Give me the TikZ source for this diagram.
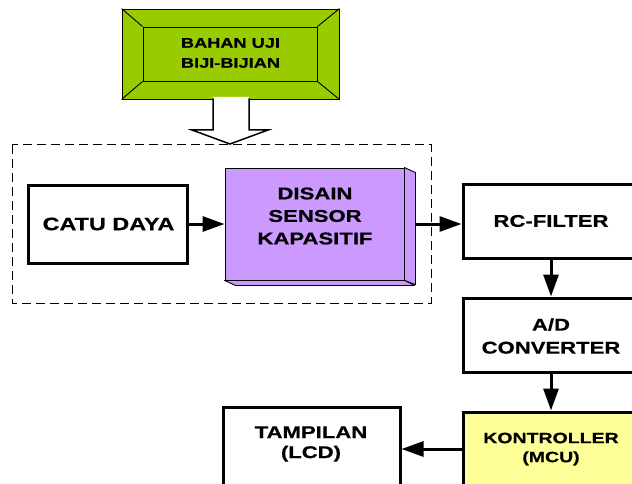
\documentclass[tikz,border=0pt]{standalone}
\usepackage{fontspec}
\newfontfamily\lbl[FakeStretch=1.3,FakeBold=0.6]{Liberation Sans}
\usetikzlibrary{arrows.meta}
\definecolor{grn}{HTML}{99CC00}
\definecolor{prp}{HTML}{CC99FF}
\definecolor{ylw}{HTML}{FFFF99}
\tikzset{
  blk/.style={draw=black, line width=3pt, fill=white, inner sep=0pt},
  lbltext/.style={align=center, inner sep=0pt, text=black},
  arr/.style={line width=3pt, -{Triangle[length=22pt,width=15pt]}},
  thin3d/.style={draw=black, line width=0.9pt, fill=prp, line join=round},
}
\begin{document}
\begin{tikzpicture}[x=1pt,y=-1pt]
\useasboundingbox (0,0) rectangle (632,484);
\clip (0,0) rectangle (632,484);

% green bevel box
\node[draw=black, line width=0.9pt, fill=grn, minimum width=217pt, minimum height=90pt, inner sep=0pt] (grn) at (230.5,54) {};
\node[draw=black, line width=0.9pt, fill=grn, minimum width=174pt, minimum height=54pt, inner sep=0pt] (grnin) at (230,54) {};
\draw[line width=0.9pt] (grn.north west) -- (grnin.north west)
  (grn.north east) -- (grnin.north east)
  (grn.south west) -- (grnin.south west)
  (grn.south east) -- (grnin.south east);
\node[lbltext, font=\lbl\bfseries\fontsize{14}{20}\selectfont] (bahan) at (230.5,53) {BAHAN UJI\\BIJI-BIJIAN};

% hollow arrow
\fill[white] (213,97) -- (213,130) -- (192,130) -- (230,144) -- (268,130) -- (249,130) -- (249,97) -- cycle;
\draw[line width=1.5pt, line join=miter] (213,98.5) -- (213,130) -- (192,130) -- (230,144) -- (268,130) -- (249,130) -- (249,98.5);

% dashed group
\draw[line width=1pt, dash pattern=on 9pt off 5pt] (12,145) rectangle (431,303);

% catu daya
\node[blk, minimum width=159pt, minimum height=78pt] (catu) at (107.5,224) {};
\node[lbltext, font=\lbl\bfseries\fontsize{18}{22}\selectfont] (catut) at (108.5,224) {CATU DAYA};

% purple 3d box
\node[thin3d, minimum width=179pt, minimum height=112pt, inner sep=0pt] (prp) at (314.5,224) {};
\draw[thin3d] (prp.north east) -- ++(11,5) -- ++(0,112) -- (prp.south east) -- cycle;
\draw[thin3d] (prp.south west) -- ++(11,5) -- ++(179,0) -- (prp.south east) -- cycle;
\coordinate (prpout) at ([xshift=11pt]prp.east);
\node[lbltext, font=\lbl\bfseries\fontsize{17}{22.5}\selectfont] (prpt) at (315,216) {DISAIN\\SENSOR\\KAPASITIF};

% right column
\node[blk, minimum width=176pt, minimum height=74pt] (rc) at (551,221.5) {};
\node[lbltext, font=\lbl\bfseries\fontsize{17}{22}\selectfont] (rct) at (551,221) {RC-FILTER};
\node[blk, minimum width=176pt, minimum height=74pt] (ad) at (551,335) {};
\node[lbltext, font=\lbl\bfseries\fontsize{17}{23}\selectfont] (adt) at (551,336) {A/D\\CONVERTER};
\node[blk, fill=ylw, minimum width=176pt, minimum height=100pt] (kb) at (551,462) {};
\node[lbltext, font=\lbl\bfseries\fontsize{15}{19}\selectfont] (kbt) at (551,449) {KONTROLLER\\(MCU)};

% tampilan
\node[blk, minimum width=177pt, minimum height=100pt] (tp) at (311.5,457) {};
\node[lbltext, font=\lbl\bfseries\fontsize{17}{20}\selectfont] (tpt) at (311,444) {TAMPILAN\\(LCD)};

% connectors
\draw[arr] (catu.east) -- (prp.west);
\draw[arr] (prpout) -- (rc.west |- prpout);
\draw[arr] (rc.south) -- (ad.north);
\draw[arr] (ad.south) -- (kb.north);
\coordinate (kbl) at ([yshift=0pt]kb.west |- kbt);
\draw[arr] (kbl) -- (tp.east |- kbl);
\end{tikzpicture}
\end{document}
